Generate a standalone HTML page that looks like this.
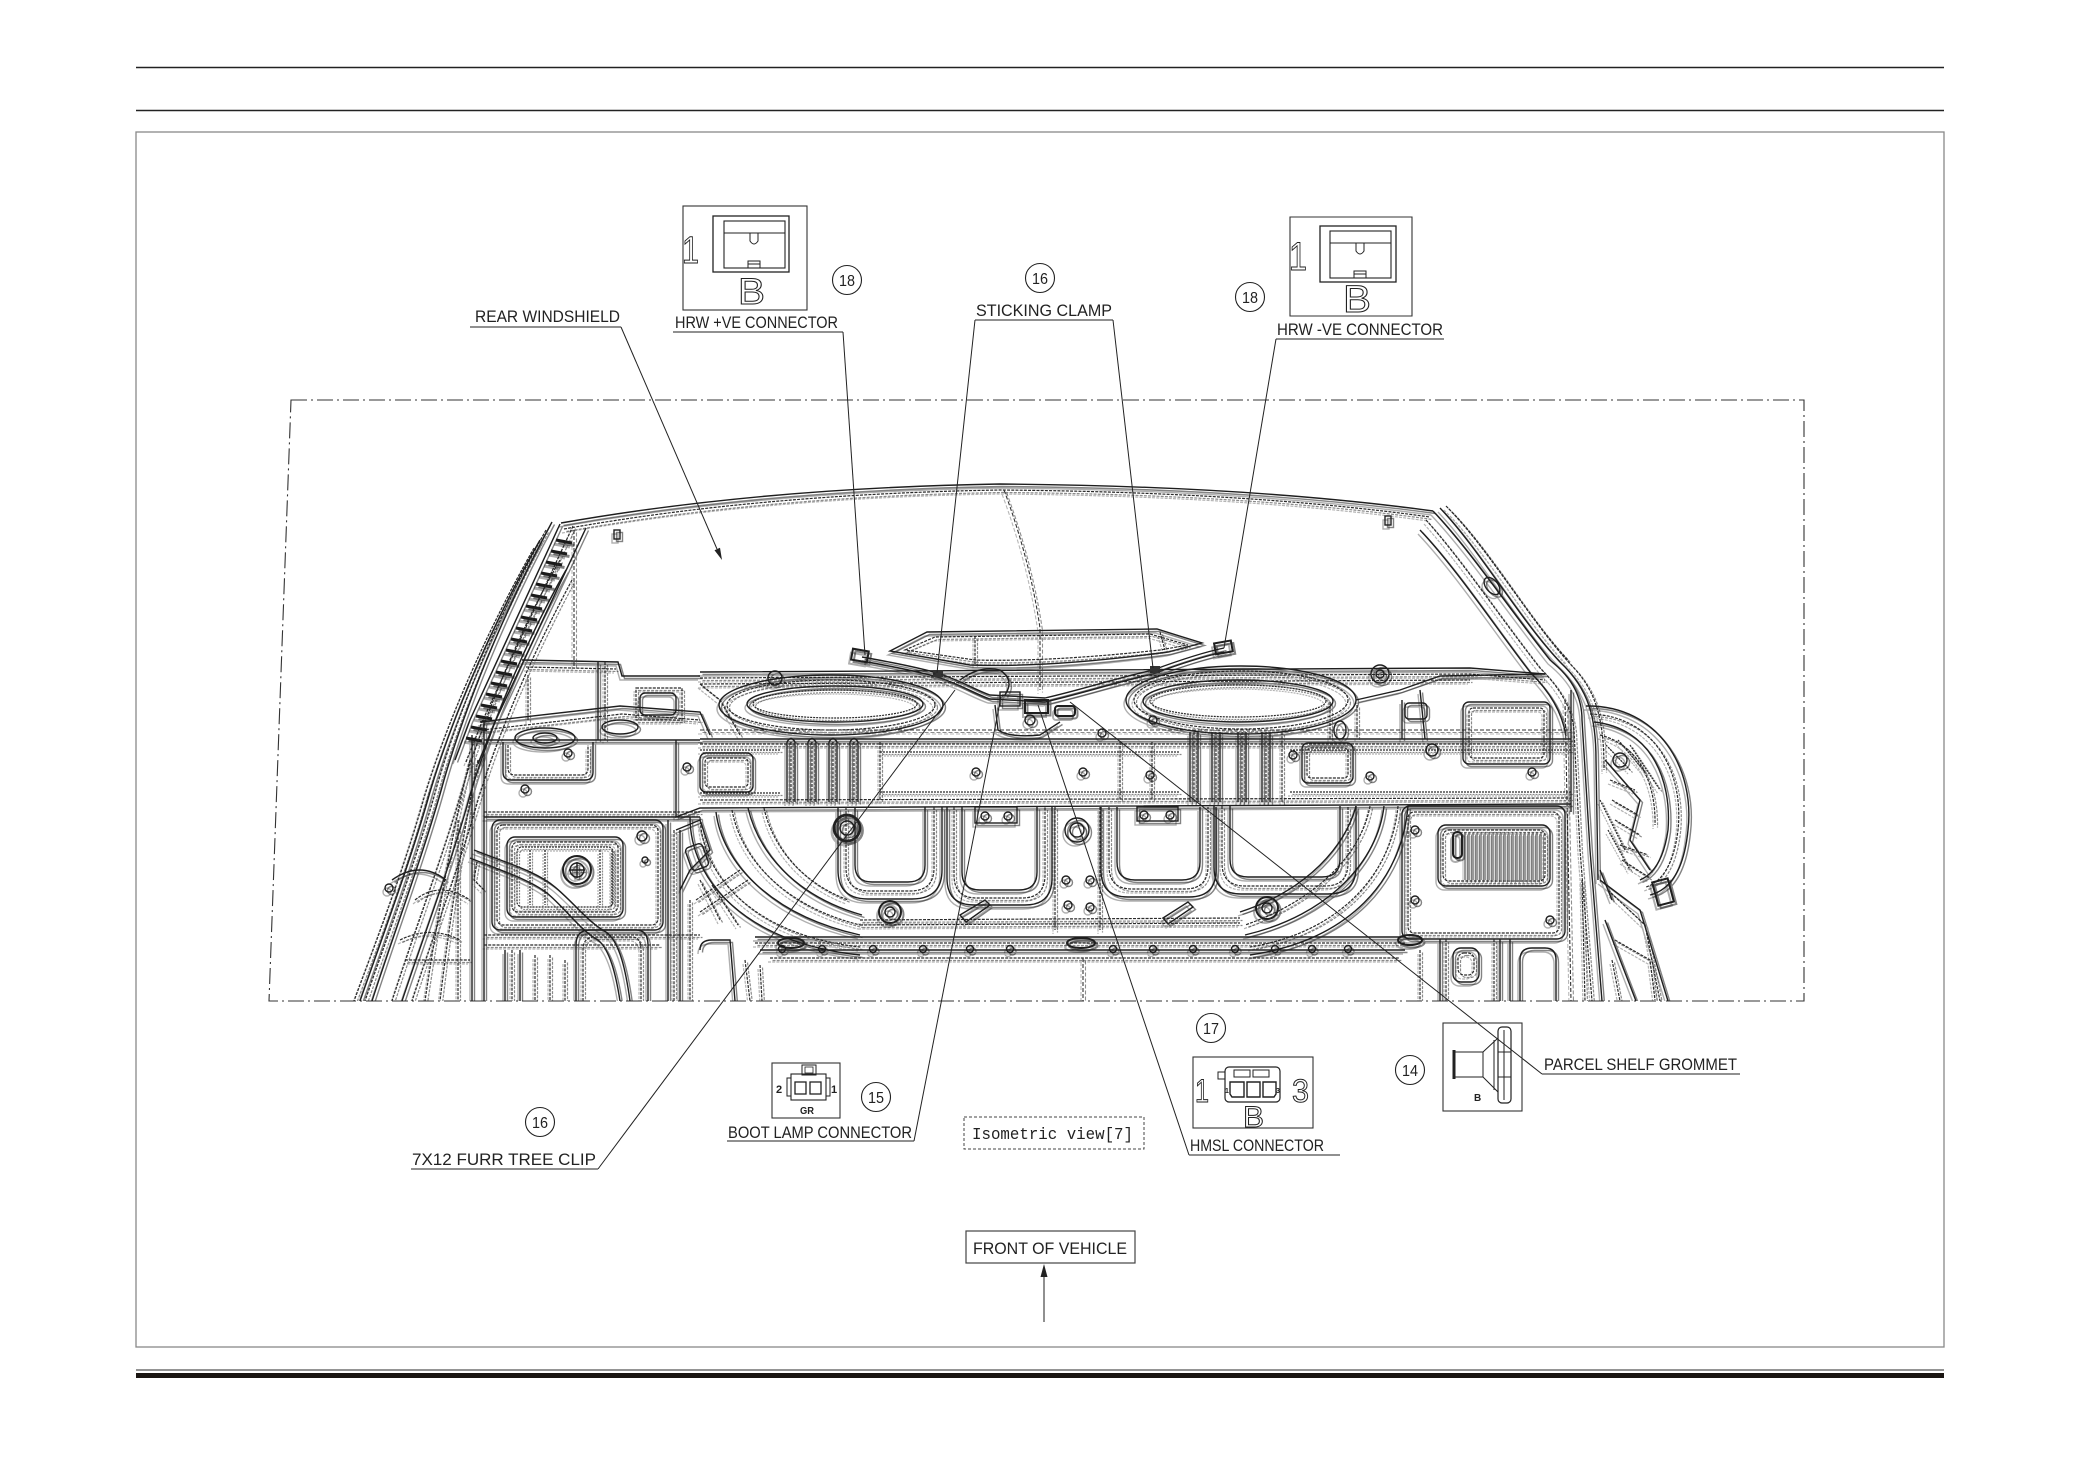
<!DOCTYPE html>
<html><head><meta charset="utf-8"><style>
html,body{margin:0;padding:0;background:#fff;}
svg{display:block;}
.t{font-family:"Liberation Sans",sans-serif;font-size:16.5px;fill:#222;}
.n{font-family:"Liberation Sans",sans-serif;font-size:16px;fill:#222;text-anchor:middle;}
.o{font-family:"Liberation Sans",sans-serif;fill:#fff;stroke:#222;stroke-width:1;}
.s{fill:none;stroke:#1e1e1e;stroke-width:1.4;}
.s2{fill:none;stroke:#1e1e1e;stroke-width:2;}
.d{fill:none;stroke:#2a2a2a;stroke-width:1.2;stroke-dasharray:3 1.2;}
.dl{fill:none;stroke:#333;stroke-width:1.1;stroke-dasharray:4 2;}
.h{fill:none;stroke:#2a2a2a;stroke-width:1.2;stroke-dasharray:2 1;}
.l{fill:none;stroke:#222;stroke-width:1;}
</style></head><body>
<svg width="2080" height="1471" viewBox="0 0 2080 1471" xmlns="http://www.w3.org/2000/svg">
<!-- header / frame -->
<line x1="136" y1="67.5" x2="1944" y2="67.5" stroke="#222" stroke-width="1.6"/>
<line x1="136" y1="110.5" x2="1944" y2="110.5" stroke="#222" stroke-width="1.6"/>
<rect x="136" y="132" width="1808" height="1215" fill="none" stroke="#888" stroke-width="1.3"/>
<line x1="136" y1="1370" x2="1944" y2="1370" stroke="#555" stroke-width="1.2"/>
<rect x="136" y="1373" width="1808" height="5" fill="#1a1512"/>

<!-- dash-dot view boundary -->
<path d="M291,400 L1804,400 L1804,1001 L269,1001 Z" fill="none" stroke="#333" stroke-width="1.1" stroke-dasharray="16 4 2 4"/>

<!-- ================= CAR DRAWING ================= -->
<defs>
<clipPath id="vc"><path d="M291,400 L1804,400 L1804,1001 L269,1001 Z"/></clipPath>
</defs>
<g clip-path="url(#vc)">
<g id="car">
<!-- windshield -->
<path class="s" d="M561,523 Q760,488 1000,484 Q1250,486 1433,511"/>
<path class="d" d="M564,529 Q760,494 1000,490 Q1250,492 1430,517"/>
<path class="dl" d="M574,530 L574,668"/>
<path class="dl" d="M1004,490 Q1030,560 1040,628 L1040,690"/>
<rect x="614" y="530" width="6" height="9" class="s"/>
<rect x="1385" y="516" width="6" height="9" class="s"/>

<!-- left pillar band with ladder -->
<path class="s" d="M560,524 L470,720 L455,760"/>
<path class="s" d="M586,528 L494,724 L478,764"/>
<path class="d" d="M573,526 L482,722 L466,762"/>
<g stroke="#1a1a1a" stroke-width="3">
<line x1="556" y1="540" x2="572" y2="543"/><line x1="551" y1="551" x2="567" y2="554"/><line x1="546" y1="562" x2="562" y2="565"/>
<line x1="541" y1="573" x2="557" y2="576"/><line x1="536" y1="584" x2="552" y2="587"/><line x1="531" y1="595" x2="547" y2="598"/>
<line x1="526" y1="606" x2="542" y2="609"/><line x1="521" y1="617" x2="537" y2="620"/><line x1="516" y1="628" x2="532" y2="631"/>
<line x1="511" y1="639" x2="527" y2="642"/><line x1="506" y1="650" x2="522" y2="653"/><line x1="501" y1="661" x2="517" y2="664"/>
<line x1="496" y1="672" x2="512" y2="675"/><line x1="491" y1="683" x2="507" y2="686"/><line x1="486" y1="694" x2="502" y2="697"/>
<line x1="481" y1="705" x2="497" y2="708"/><line x1="476" y1="716" x2="492" y2="719"/><line x1="471" y1="727" x2="487" y2="730"/>
<line x1="466" y1="738" x2="482" y2="741"/>
</g>
<!-- left outer body lines -->
<path class="s" d="M552,522 C515,590 470,690 444,780 C425,850 395,930 372,1001"/>
<path class="d" d="M546,530 C508,598 463,696 437,786 C418,856 388,934 365,1001"/>
<path class="s" d="M540,540 C500,610 456,705 430,792 C411,860 382,938 360,1001"/>
<path class="d" d="M534,548 C494,618 450,712 424,798 C405,866 376,942 354,1001"/>
<path class="d" d="M560,560 C525,620 488,705 462,790 C445,850 415,930 392,1001"/>
<path class="s" d="M566,570 C532,630 496,710 470,795 C454,855 425,932 402,1001"/>
<path class="d" d="M572,580 C540,640 504,716 478,800 C462,858 434,934 412,1001"/>
<path class="d" d="M470,760 C455,820 440,900 425,1001"/>
<path class="d" d="M478,760 C466,820 452,900 440,1001"/>
<path class="s" d="M472,735 L472,1001"/>
<path class="d" d="M458,820 L458,1001"/>
<path class="d" d="M415,900 Q440,880 470,900"/>
<path class="s" d="M392,880 Q420,860 446,880"/>
<path class="d" d="M400,940 Q430,925 460,940 M405,960 L470,960"/>
<circle cx="389" cy="888" r="4" class="s"/>

<!-- left upper region -->
<path class="s" d="M522,660 L618,662 L622,676 L700,676"/>
<path class="d" d="M526,667 L616,669"/>
<path class="s" d="M480,722 L620,706 L700,712 L710,735"/>
<path class="d" d="M482,730 L622,714 L700,720"/>
<path class="s" d="M598,662 L598,740"/>
<path class="d" d="M605,662 L605,740 M528,675 L528,720"/>
<ellipse cx="545" cy="738" rx="30" ry="10" class="s"/>
<ellipse cx="545" cy="738" rx="12" ry="5" class="s"/>
<path class="s" d="M503,742 L503,772 Q503,780 511,780 L585,780 Q593,780 593,772 L593,742"/>
<path class="d" d="M508,745 L508,768 Q508,775 515,775 L582,775 Q588,775 588,768 L588,745"/>
<circle cx="568" cy="753" r="4" class="s"/><circle cx="525" cy="789" r="4" class="s"/>
<rect x="640" y="693" width="36" height="22" rx="5" class="s"/>
<path class="d" d="M636,688 L682,688 L682,720 L636,720 Z"/>
<ellipse cx="620" cy="727" rx="18" ry="7" class="s"/>
<path class="d" d="M700,684 L720,700 L740,735"/>

<!-- shelf -->
<path class="s" d="M700,672 L1470,668 L1545,674"/>
<path class="d" d="M700,678 L1470,674 L1545,680"/>
<path class="d" d="M700,684 L1470,680"/>
<!-- ovals -->
<ellipse cx="831" cy="705" rx="112" ry="30" class="s"/>
<ellipse cx="831" cy="705" rx="104" ry="25" class="d"/>
<ellipse cx="835" cy="704" rx="88" ry="18" class="s"/>
<ellipse cx="835" cy="704" rx="82" ry="14" class="h"/>
<ellipse cx="1241" cy="700" rx="115" ry="34" class="s"/>
<ellipse cx="1241" cy="700" rx="107" ry="29" class="d"/>
<ellipse cx="1238" cy="701" rx="95" ry="21" class="s"/>
<ellipse cx="1238" cy="701" rx="88" ry="16" class="h"/>
<circle cx="775" cy="678" r="7" class="s"/><circle cx="1380" cy="674" r="9" class="s"/><circle cx="1380" cy="674" r="4" class="s"/>
<!-- raised center panel -->
<path class="s" d="M890,651 L927,632 L1157,629 L1202,643 L1168,652 Q1050,668 970,665 Z"/>
<path class="d" d="M905,650 L935,637 L1150,634 L1188,645 L1160,650 Q1050,662 975,660 Z"/>
<path class="d" d="M975,636 L975,664 M1160,632 L1165,650"/>

<!-- wiring harness -->
<path class="s" d="M862,657 C890,662 920,668 937,673 C960,680 975,690 990,695 L1045,698 C1080,690 1110,680 1153,670 C1180,660 1205,652 1224,648"/>
<path class="s" d="M862,661 C890,666 920,672 937,677 C960,684 975,694 990,699 L1045,702 C1080,694 1110,684 1153,674 C1180,664 1205,656 1224,652"/>
<path class="s" d="M960,680 Q980,665 1000,670 Q1015,680 1005,695"/>
<rect x="852" y="650" width="16" height="11" class="s2" transform="rotate(10 860 655)"/>
<rect x="1215" y="642" width="17" height="11" class="s2" transform="rotate(-10 1223 648)"/>
<rect x="933" y="670" width="10" height="7" fill="#333"/>
<rect x="1150" y="666" width="10" height="7" fill="#333"/>
<rect x="1000" y="692" width="20" height="14" class="s"/>
<rect x="1025" y="700" width="23" height="13" class="s2"/>
<rect x="1055" y="706" width="20" height="10" rx="3" class="s2"/>
<circle cx="1030" cy="720" r="5" class="s"/>
<path class="s" d="M995,705 L998,730 Q1010,738 1040,735 L1060,722"/>

<!-- beam -->
<path class="dl" d="M700,730 L1571,730"/>
<path class="s" d="M700,739 L1571,739"/>
<path class="d" d="M700,744 L1571,744"/>
<path class="h" d="M700,750 L780,750 M880,752 L1180,752 M1290,750 L1571,750"/>
<path class="s" d="M484,740 L700,740 M484,817 L700,817"/>
<path class="d" d="M484,812 L700,812"/>
<path class="s" d="M676,740 L676,817 L700,808 L1571,804"/>
<path class="d" d="M700,800 L1571,798"/>
<path class="h" d="M700,793 L780,793 M880,792 L1180,792 M1290,792 L1571,792"/>
<path class="s" d="M484,720 L484,1001"/>
<path class="s" d="M1571,690 L1571,812"/>
<rect x="700" y="753" width="53" height="39" rx="6" class="s"/>
<rect x="705" y="758" width="43" height="29" rx="4" class="d"/>
<rect x="1302" y="743" width="51" height="40" rx="6" class="s"/>
<rect x="1307" y="748" width="41" height="30" rx="4" class="d"/>
<rect x="1463" y="702" width="87" height="62" rx="6" class="s"/>
<rect x="1469" y="708" width="75" height="50" rx="4" class="d"/>
<!-- ribs left -->
<g>
<path class="s" d="M787,742 L787,802 M795,742 L795,802 M808,742 L808,802 M816,742 L816,802 M829,742 L829,802 M837,742 L837,802 M850,742 L850,802 M858,742 L858,802"/>
<path class="d" d="M791,742 L791,802 M812,742 L812,802 M833,742 L833,802 M854,742 L854,802"/>
<path class="s" d="M787,742 Q791,735 795,742 M808,742 Q812,735 816,742 M829,742 Q833,735 837,742 M850,742 Q854,735 858,742"/>
</g>
<!-- ribs right -->
<g>
<path class="s" d="M1190,732 L1190,802 M1198,732 L1198,802 M1212,732 L1212,802 M1220,732 L1220,802 M1238,732 L1238,802 M1246,732 L1246,802 M1262,732 L1262,802 M1270,732 L1270,802"/>
<path class="d" d="M1194,732 L1194,802 M1216,732 L1216,802 M1242,732 L1242,802 M1266,732 L1266,802 M1282,732 L1282,802"/>
</g>
<path class="d" d="M880,742 L880,800 M1120,742 L1120,800 M1152,742 L1152,800"/>
<circle cx="1083" cy="772" r="4" class="s"/><circle cx="976" cy="772" r="4" class="s"/><circle cx="1150" cy="775" r="4" class="s"/>
<circle cx="1293" cy="755" r="4" class="s"/><circle cx="1370" cy="776" r="4" class="s"/><circle cx="1532" cy="772" r="4" class="s"/>
<circle cx="687" cy="767" r="4" class="s"/><circle cx="1153" cy="720" r="4" class="s"/><circle cx="1102" cy="733" r="4" class="s"/>

<!-- lower left bay -->
<rect x="492" y="820" width="171" height="110" rx="8" class="s"/>
<rect x="497" y="825" width="161" height="100" rx="6" class="d"/>
<rect x="507" y="837" width="116" height="80" rx="8" class="s"/>
<rect x="512" y="842" width="106" height="70" rx="6" class="d"/>
<rect x="517" y="847" width="96" height="60" rx="5" class="h"/>
<path class="h" d="M530,850 L530,905 M545,850 L545,905 M600,850 L600,905 M612,850 L612,905"/>
<circle cx="577" cy="870" r="14" class="s2"/>
<circle cx="577" cy="870" r="7" class="s"/>
<path class="s" d="M569,870 L585,870 M577,862 L577,878"/>
<circle cx="642" cy="836" r="5" class="s"/><circle cx="645" cy="860" r="3" class="s"/>
<!-- hose -->
<path class="s" d="M470,858 C505,872 530,880 547,893 C565,908 580,930 598,940 C610,950 616,975 620,1001"/>
<path class="s" d="M474,850 C510,864 537,872 555,887 C573,902 588,922 606,932 C620,942 626,972 630,1001"/>
<path class="d" d="M477,862 L474,880 L484,890"/>
<!-- left lower dense -->
<path class="d" d="M484,935 L700,935 M484,945 L660,945"/>
<path class="s" d="M505,950 L505,1001 M520,950 L520,1001"/>
<path class="d" d="M512,950 L512,1001 M535,955 L535,1001 M550,955 L550,1001 M565,960 L565,1001"/>
<path class="s" d="M576,1001 L576,945 Q576,930 590,930 L636,930 Q648,930 648,945 L648,1001"/>
<path class="d" d="M583,1001 L583,950 Q583,937 595,937 L632,937 Q641,937 641,950 L641,1001"/>
<path class="s" d="M668,820 L668,1001 M680,830 L680,1001"/>
<path class="d" d="M674,830 L674,1001 M690,900 L690,1001"/>
<path class="s" d="M700,950 Q700,940 712,940 L730,940 L735,1001"/>
<path class="d" d="M745,960 L750,1001 M760,965 L762,1001"/>
<!-- connector cluster left of arc -->
<path class="s" d="M676,830 L700,820 L710,850 L690,870 L680,890"/>
<rect x="688" y="845" width="18" height="24" rx="4" class="s" transform="rotate(-20 697 857)"/>
<path class="d" d="M696,900 L740,870 M700,912 L748,880"/>

<!-- big arcs (left) -->
<path class="s" d="M690,817 C690,880 745,943 860,955"/>
<path class="d" d="M700,817 C702,875 752,935 860,947"/>
<path class="s" d="M716,812 C722,862 770,915 860,935"/>
<path class="d" d="M732,810 C740,855 780,905 860,925"/>
<path class="s" d="M748,808 C758,850 792,895 862,915"/>
<path class="d" d="M764,808 C772,845 800,882 848,900"/>
<path class="d" d="M700,880 L720,920 M712,885 L738,925"/>
<!-- big arcs (right) -->
<path class="s" d="M1408,806 C1402,880 1350,940 1250,955"/>
<path class="d" d="M1398,806 C1392,872 1342,932 1250,947"/>
<path class="s" d="M1384,806 C1378,860 1330,915 1245,935"/>
<path class="d" d="M1370,806 C1362,852 1318,900 1245,925"/>
<path class="s" d="M1356,806 C1346,845 1308,890 1240,912"/>

<!-- wells -->
<g>
<path class="s" d="M855,807 L855,865 Q855,882 872,882 L908,882 Q925,882 925,865 L925,807"/>
<path class="d" d="M846,807 L846,868 Q846,891 870,891 L910,891 Q934,891 934,868 L934,807"/>
<path class="s" d="M838,807 L838,870 Q838,899 868,899 L912,899 Q942,899 942,870 L942,807"/>
<path class="s" d="M962,807 L962,872 Q962,890 980,890 L1019,890 Q1037,890 1037,872 L1037,807"/>
<path class="d" d="M954,807 L954,875 Q954,898 977,898 L1022,898 Q1045,898 1045,875 L1045,807"/>
<path class="s" d="M947,807 L947,878 Q947,905 974,905 L1025,905 Q1052,905 1052,878 L1052,807"/>
<path class="s" d="M1117,807 L1117,862 Q1117,880 1135,880 L1182,880 Q1200,880 1200,862 L1200,807"/>
<path class="d" d="M1109,807 L1109,866 Q1109,889 1132,889 L1185,889 Q1208,889 1208,866 L1208,807"/>
<path class="s" d="M1101,807 L1101,870 Q1101,897 1128,897 L1189,897 Q1216,897 1216,870 L1216,807"/>
<path class="s" d="M1230,806 L1230,859 Q1230,877 1248,877 L1322,877 Q1340,877 1340,859 L1340,806"/>
<path class="d" d="M1222,806 L1222,863 Q1222,886 1245,886 L1325,886 Q1348,886 1348,863 L1348,806"/>
<path class="s" d="M1214,806 L1214,867 Q1214,894 1241,894 L1328,894 Q1356,894 1356,867 L1356,806"/>
</g>
<rect x="975" y="807" width="42" height="16" class="s"/>
<rect x="1137" y="807" width="41" height="14" class="s"/>
<circle cx="985" cy="816" r="4" class="s"/><circle cx="1008" cy="816" r="4" class="s"/>
<circle cx="1144" cy="815" r="4" class="s"/><circle cx="1170" cy="815" r="4" class="s"/>
<!-- center strip -->
<path class="d" d="M1055,807 L1055,930 M1100,807 L1100,930"/>
<circle cx="1077" cy="830" r="12" class="s"/><circle cx="1077" cy="830" r="7" class="s"/>
<circle cx="1066" cy="880" r="4" class="s"/><circle cx="1090" cy="880" r="4" class="s"/>
<circle cx="1068" cy="905" r="4" class="s"/><circle cx="1090" cy="907" r="4" class="s"/>
<!-- clip -->
<circle cx="847" cy="828" r="13" fill="none" stroke="#222" stroke-width="2.8"/>
<circle cx="847" cy="828" r="7" class="s"/>
<!-- bosses -->
<circle cx="890" cy="912" r="11" class="s2"/><circle cx="890" cy="912" r="5" class="s"/>
<circle cx="1267" cy="908" r="11" class="s2"/><circle cx="1267" cy="908" r="5" class="s"/>
<path class="s" d="M960,915 L985,900 L990,905 L966,922 Z M1163,918 L1188,902 L1193,907 L1168,924 Z"/>
<path class="d" d="M860,920 L1240,918 M860,925 L1240,923"/>
<!-- sill -->
<path class="s" d="M755,937 L1405,937"/>
<path class="d" d="M755,943 L1405,943"/>
<path class="s" d="M760,950 L1405,950"/>
<path class="d" d="M770,958 L1400,958"/>
<g class="s">
<circle cx="782" cy="949" r="3.5"/><circle cx="822" cy="949" r="3.5"/><circle cx="873" cy="949" r="3.5"/><circle cx="923" cy="949" r="3.5"/>
<circle cx="970" cy="949" r="3.5"/><circle cx="1010" cy="949" r="3.5"/><circle cx="1113" cy="949" r="3.5"/><circle cx="1153" cy="949" r="3.5"/>
<circle cx="1193" cy="949" r="3.5"/><circle cx="1235" cy="949" r="3.5"/><circle cx="1275" cy="949" r="3.5"/><circle cx="1312" cy="949" r="3.5"/><circle cx="1348" cy="949" r="3.5"/>
</g>
<ellipse cx="791" cy="943" rx="13" ry="5" class="s2"/>
<ellipse cx="1081" cy="943" rx="14" ry="5" class="s2"/>
<ellipse cx="1410" cy="940" rx="12" ry="5" class="s2"/>
<path class="dl" d="M1083,958 L1083,1001"/>

<!-- right bay -->
<rect x="1402" y="806" width="163" height="133" rx="8" class="s"/>
<rect x="1408" y="812" width="151" height="121" rx="6" class="d"/>
<rect x="1438" y="825" width="112" height="61" rx="8" class="s"/>
<rect x="1443" y="830" width="102" height="51" rx="6" class="d"/>
<path stroke="#333" stroke-width="1" fill="none" d="M1465,832 L1465,880 M1469,832 L1469,880 M1473,832 L1473,880 M1477,832 L1477,880 M1481,832 L1481,880 M1485,832 L1485,880 M1489,832 L1489,880 M1493,832 L1493,880 M1497,832 L1497,880 M1501,832 L1501,880 M1505,832 L1505,880 M1509,832 L1509,880 M1513,832 L1513,880 M1517,832 L1517,880 M1521,832 L1521,880 M1525,832 L1525,880 M1529,832 L1529,880 M1533,832 L1533,880 M1537,832 L1537,880 M1541,832 L1541,880"/>
<rect x="1453" y="832" width="9" height="26" rx="4" class="s2"/>
<circle cx="1415" cy="830" r="4" class="s"/><circle cx="1415" cy="900" r="4" class="s"/><circle cx="1550" cy="920" r="4" class="s"/>
<path class="s" d="M1440,939 L1440,1001 M1500,939 L1500,1001 M1510,939 L1510,1001"/>
<path class="d" d="M1446,939 L1446,1001 M1494,939 L1494,1001 M1420,950 L1420,1001"/>
<rect x="1453" y="948" width="26" height="34" rx="8" class="s"/>
<rect x="1458" y="953" width="16" height="22" rx="6" class="d"/>
<path class="s" d="M1520,1001 L1520,960 Q1520,948 1532,948 L1545,948 Q1556,948 1556,960 L1556,1001"/>

<!-- right pillar -->
<path class="s" d="M1433,511 C1470,550 1510,610 1550,660 C1575,680 1582,700 1582,720 L1590,850 L1602,1001"/>
<path class="d" d="M1426,520 C1462,560 1502,620 1540,668 C1562,690 1572,710 1574,730 L1580,850 L1592,1001"/>
<path class="s" d="M1420,530 C1456,568 1496,628 1530,672 C1550,692 1562,712 1566,736"/>
<path class="s" d="M1440,508 C1480,550 1520,620 1560,662 C1590,690 1596,720 1596,760 L1598,880"/>
<path class="d" d="M1446,506 C1488,548 1528,618 1568,660"/>
<path class="d" d="M1452,512 C1494,556 1532,624 1574,668 C1598,694 1604,724 1604,770"/>
<path class="dl" d="M1565,700 L1571,1001"/>
<ellipse cx="1492" cy="586" rx="10" ry="6" class="s" transform="rotate(50 1492 586)"/>
<!-- taillight -->
<path class="s" d="M1586,706 C1660,705 1695,770 1688,830 C1684,870 1670,890 1650,895"/>
<path class="d" d="M1590,714 C1656,716 1684,774 1678,830 C1674,864 1662,882 1646,887"/>
<path class="s" d="M1594,722 C1650,728 1672,778 1668,830 C1664,858 1654,874 1640,880"/>
<path class="d" d="M1600,735 C1640,745 1656,785 1655,825"/>
<path class="s" d="M1605,760 L1640,800 L1630,840 L1650,870"/>
<path class="d" d="M1610,780 L1635,790 M1612,800 L1638,815 M1615,820 L1640,835 M1620,845 L1648,855 M1622,860 L1650,878"/>
<path class="h" d="M1606,745 L1630,770 M1618,740 L1645,772 M1630,745 L1660,790 M1600,800 L1625,850 M1608,830 L1630,870"/>
<circle cx="1620" cy="760" r="7" class="s"/>
<rect x="1655" y="880" width="16" height="24" class="s2" transform="rotate(-15 1663 892)"/>
<path class="s" d="M1600,870 L1612,900"/>
<!-- lower right -->
<path class="s" d="M1600,880 L1640,910 L1668,1001"/>
<path class="d" d="M1608,890 L1645,925 L1660,1001"/>
<path class="s" d="M1605,920 Q1620,960 1636,1001"/>
<path class="d" d="M1615,940 L1650,960 L1655,1000"/>
<path class="d" d="M1582,880 L1585,1001 M1612,960 L1620,1001"/>
<!-- right upper region -->
<path class="s" d="M1356,700 L1400,690 L1440,676 L1545,674"/>
<path class="s" d="M1402,700 L1402,739 M1420,690 L1425,739"/>
<rect x="1405" y="703" width="22" height="16" rx="4" class="s"/>
<circle cx="1432" cy="750" r="6" class="s"/>
<ellipse cx="1340" cy="730" rx="6" ry="9" class="s"/>
<path class="d" d="M1330,702 L1330,739 M1357,705 L1357,739"/>
</g>
<use href="#car" transform="translate(2.5,2.5)" opacity="0.55"/>
<use href="#car" transform="translate(-2,4)" opacity="0.35"/>
</g>

<!-- ================= LEADERS ================= -->
<g class="l">
<line x1="470" y1="327" x2="621" y2="327"/>
<line x1="621" y1="327" x2="717" y2="549"/>
<line x1="673" y1="332" x2="843" y2="332"/>
<line x1="843" y1="332" x2="865" y2="655"/>
<line x1="975" y1="320" x2="1113" y2="320"/>
<line x1="975" y1="320" x2="937" y2="673"/>
<line x1="1113" y1="320" x2="1153" y2="668"/>
<line x1="1276" y1="339" x2="1444" y2="339"/>
<line x1="1276" y1="339" x2="1224" y2="648"/>
<line x1="411" y1="1169" x2="598" y2="1169"/>
<line x1="598" y1="1169" x2="955" y2="690"/>
<line x1="727" y1="1141" x2="914" y2="1141"/>
<line x1="914" y1="1141" x2="1001" y2="697"/>
<line x1="1189" y1="1155" x2="1340" y2="1155"/>
<line x1="1189" y1="1155" x2="1038" y2="705"/>
<line x1="1542" y1="1074" x2="1740" y2="1074"/>
<line x1="1542" y1="1074" x2="1070" y2="702"/>
<line x1="1044" y1="1322" x2="1044" y2="1276"/>
</g>
<polygon points="722,560 714.5,550.2 720,547.8" fill="#222"/>
<polygon points="1044,1264 1040.5,1277 1047.5,1277" fill="#222"/>

<!-- ================= LABELS ================= -->
<text class="t" x="475" y="322" textLength="145" lengthAdjust="spacingAndGlyphs">REAR WINDSHIELD</text>
<text class="t" x="675" y="328" textLength="163" lengthAdjust="spacingAndGlyphs">HRW +VE CONNECTOR</text>
<text class="t" x="976" y="316" textLength="136" lengthAdjust="spacingAndGlyphs">STICKING CLAMP</text>
<text class="t" x="1277" y="335" textLength="166" lengthAdjust="spacingAndGlyphs">HRW -VE CONNECTOR</text>
<text class="t" x="1544" y="1070" textLength="193" lengthAdjust="spacingAndGlyphs">PARCEL SHELF GROMMET</text>
<text class="t" x="1190" y="1151" textLength="134" lengthAdjust="spacingAndGlyphs">HMSL CONNECTOR</text>
<text class="t" x="728" y="1138" textLength="184" lengthAdjust="spacingAndGlyphs">BOOT LAMP CONNECTOR</text>
<text class="t" x="412" y="1165" textLength="184" lengthAdjust="spacingAndGlyphs">7X12 FURR TREE CLIP</text>
<rect x="964" y="1117" width="180" height="32" fill="none" stroke="#444" stroke-width="1" stroke-dasharray="3 2"/>
<text class="t" x="972" y="1139" textLength="161" lengthAdjust="spacingAndGlyphs" style="font-family:'Liberation Mono',monospace;">Isometric view[7]</text>
<rect x="966" y="1231" width="169" height="32" fill="none" stroke="#444" stroke-width="1.2"/>
<text class="t" x="973" y="1254" textLength="154" lengthAdjust="spacingAndGlyphs">FRONT OF VEHICLE</text>

<!-- balloons -->
<g fill="none" stroke="#222" stroke-width="1.1">
<circle cx="847" cy="280" r="14.5"/>
<circle cx="1040" cy="278" r="14.5"/>
<circle cx="1250" cy="297" r="14.5"/>
<circle cx="1211" cy="1028" r="14.5"/>
<circle cx="1410" cy="1070" r="14.5"/>
<circle cx="876" cy="1097" r="14.5"/>
<circle cx="540" cy="1122" r="14.5"/>
</g>
<text class="n" x="847" y="286" textLength="16" lengthAdjust="spacingAndGlyphs">18</text>
<text class="n" x="1040" y="284" textLength="16" lengthAdjust="spacingAndGlyphs">16</text>
<text class="n" x="1250" y="303" textLength="16" lengthAdjust="spacingAndGlyphs">18</text>
<text class="n" x="1211" y="1034" textLength="16" lengthAdjust="spacingAndGlyphs">17</text>
<text class="n" x="1410" y="1076" textLength="16" lengthAdjust="spacingAndGlyphs">14</text>
<text class="n" x="876" y="1103" textLength="16" lengthAdjust="spacingAndGlyphs">15</text>
<text class="n" x="540" y="1128" textLength="16" lengthAdjust="spacingAndGlyphs">16</text>

<!-- HRW +VE connector -->
<rect x="683" y="206" width="124" height="104" fill="none" stroke="#333" stroke-width="1.1"/>
<rect x="713" y="216" width="76" height="56" fill="none" stroke="#222" stroke-width="1.3"/>
<rect x="724" y="221" width="61" height="47" fill="none" stroke="#222" stroke-width="1.1"/>
<line x1="724" y1="233" x2="785" y2="233" stroke="#222" stroke-width="1.1"/>
<path d="M750,233 L750,241 Q754,247 758,241 L758,233" fill="none" stroke="#222" stroke-width="1"/>
<rect x="748" y="261" width="12" height="7" fill="none" stroke="#222" stroke-width="1"/>
<line x1="748" y1="264" x2="760" y2="264" stroke="#222" stroke-width="1"/>
<text class="o" x="682" y="263" style="font-size:38px;" textLength="17" lengthAdjust="spacingAndGlyphs">1</text>
<text class="o" x="738" y="304" style="font-size:37px;" textLength="27" lengthAdjust="spacingAndGlyphs">B</text>

<!-- HRW -VE connector -->
<path d="M1290,217 L1412,217 L1412,316 L1290,316 Z" fill="none" stroke="#333" stroke-width="1.1"/>
<rect x="1320" y="226" width="76" height="56" fill="none" stroke="#222" stroke-width="1.3"/>
<rect x="1330" y="231" width="61" height="47" fill="none" stroke="#222" stroke-width="1.1"/>
<line x1="1330" y1="243" x2="1391" y2="243" stroke="#222" stroke-width="1.1"/>
<path d="M1356,243 L1356,251 Q1360,257 1364,251 L1364,243" fill="none" stroke="#222" stroke-width="1"/>
<rect x="1354" y="271" width="12" height="7" fill="none" stroke="#222" stroke-width="1"/>
<line x1="1354" y1="274" x2="1366" y2="274" stroke="#222" stroke-width="1"/>
<text class="o" x="1289" y="270" style="font-size:40px;" textLength="18" lengthAdjust="spacingAndGlyphs">1</text>
<text class="o" x="1343" y="312" style="font-size:38px;" textLength="28" lengthAdjust="spacingAndGlyphs">B</text>

<!-- Boot lamp connector -->
<rect x="772" y="1063" width="68" height="55" fill="none" stroke="#333" stroke-width="1.1"/>
<rect x="802" y="1065" width="14" height="10" fill="none" stroke="#222" stroke-width="1"/>
<rect x="805" y="1067" width="8" height="6" fill="none" stroke="#222" stroke-width="0.8"/>
<rect x="791" y="1074" width="35" height="26" fill="none" stroke="#222" stroke-width="1.1"/>
<rect x="787" y="1078" width="4" height="18" fill="none" stroke="#222" stroke-width="1"/>
<rect x="826" y="1078" width="4" height="18" fill="none" stroke="#222" stroke-width="1"/>
<rect x="795" y="1082" width="11" height="12" fill="none" stroke="#222" stroke-width="1.3"/>
<rect x="810" y="1082" width="11" height="12" fill="none" stroke="#222" stroke-width="1.3"/>
<text x="776" y="1093" style="font-family:'Liberation Sans',sans-serif;font-size:11px;font-weight:bold;fill:#222;">2</text>
<text x="831" y="1093" style="font-family:'Liberation Sans',sans-serif;font-size:11px;font-weight:bold;fill:#222;">1</text>
<text x="800" y="1114" style="font-family:'Liberation Sans',sans-serif;font-size:10px;font-weight:bold;fill:#222;" textLength="14" lengthAdjust="spacingAndGlyphs">GR</text>

<!-- HMSL connector -->
<rect x="1193" y="1057" width="120" height="71" fill="none" stroke="#333" stroke-width="1.1"/>
<rect x="1225" y="1067" width="55" height="35" rx="4" fill="none" stroke="#222" stroke-width="1.2"/>
<rect x="1218" y="1072" width="7" height="7" fill="none" stroke="#222" stroke-width="1"/>
<rect x="1234" y="1070" width="16" height="7" fill="none" stroke="#222" stroke-width="1"/>
<rect x="1253" y="1070" width="16" height="7" fill="none" stroke="#222" stroke-width="1"/>
<path d="M1230,1082 L1244,1082 L1244,1097 L1232,1097 L1230,1094 Z M1247,1082 L1260,1082 L1260,1097 L1247,1097 Z M1263,1082 L1276,1082 L1276,1094 L1274,1097 L1263,1097 Z" fill="none" stroke="#222" stroke-width="1.4"/>
<text x="1225" y="1093" style="font-family:'Liberation Sans',sans-serif;font-size:7px;font-weight:bold;fill:#222;">1</text>
<text x="1276" y="1093" style="font-family:'Liberation Sans',sans-serif;font-size:7px;font-weight:bold;fill:#222;">3</text>
<text class="o" x="1195" y="1102" style="font-size:32px;" textLength="14" lengthAdjust="spacingAndGlyphs">1</text>
<text class="o" x="1292" y="1102" style="font-size:32px;" textLength="17" lengthAdjust="spacingAndGlyphs">3</text>
<text class="o" x="1243" y="1127" style="font-size:30px;" textLength="21" lengthAdjust="spacingAndGlyphs">B</text>

<!-- Grommet -->
<rect x="1443" y="1023" width="79" height="88" fill="none" stroke="#333" stroke-width="1.1"/>
<rect x="1453" y="1052" width="30" height="25" fill="none" stroke="#222" stroke-width="1"/>
<line x1="1454" y1="1050" x2="1454" y2="1079" stroke="#222" stroke-width="3"/>
<path d="M1483,1052 L1498,1038 L1498,1092 L1483,1077" fill="none" stroke="#222" stroke-width="1"/>
<rect x="1498" y="1027" width="13" height="76" rx="4" fill="none" stroke="#222" stroke-width="1.2"/>
<line x1="1504" y1="1030" x2="1504" y2="1100" stroke="#222" stroke-width="1"/>
<line x1="1498" y1="1052" x2="1511" y2="1052" stroke="#222" stroke-width="1"/>
<line x1="1498" y1="1077" x2="1511" y2="1077" stroke="#222" stroke-width="1"/>
<line x1="1494" y1="1040" x2="1494" y2="1090" stroke="#222" stroke-width="1"/>
<text x="1474" y="1101" style="font-family:'Liberation Sans',sans-serif;font-size:10px;font-weight:bold;fill:#222;">B</text>
</svg>
</body></html>
